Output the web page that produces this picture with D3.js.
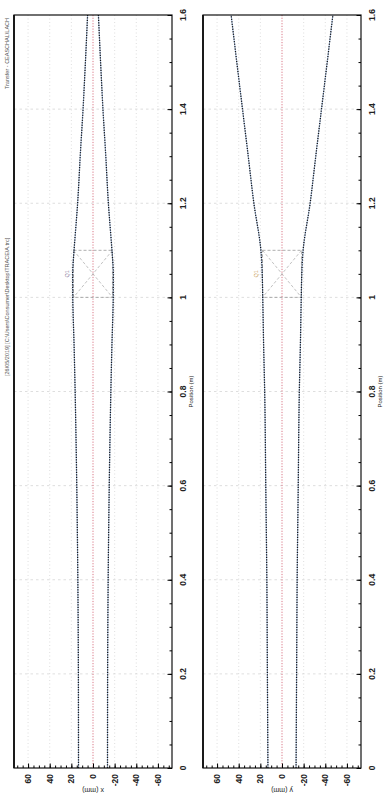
<!DOCTYPE html>
<html>
<head>
<meta charset="utf-8">
<script src="https://cdn.jsdelivr.net/npm/d3@7"></script>
<style>
  body { margin: 0; background: #fff; }
  svg { display: block; }
  text { font-family: "Liberation Sans Narrow", "Liberation Sans", Arial, sans-serif; fill: #222; }
</style>
</head>
<body>
<div id="chart"></div>
<script>
// envelope data (position in m, half size in mm)
const positions = [0, 0.2, 0.4, 0.6, 0.8, 0.9, 1.0, 1.05, 1.1, 1.2, 1.3, 1.4, 1.5, 1.6];
const xEnvelope = [13.4, 13.5, 14, 15, 16.5, 17.5, 18.7, 18.8, 17.5, 14.2, 11.8, 9.2, 7, 5];
const yEnvelope = [13, 13.5, 14, 15, 16, 17, 17.8, 18.3, 19.5, 26, 31.2, 36.5, 41.8, 47];

const posTicks = [0, 0.2, 0.4, 0.6, 0.8, 1.0, 1.2, 1.4, 1.6];
const posTickLabels = ['0', '0.2', '0.4', '0.6', '0.8', '1', '1.2', '1.4', '1.6'];
const valTicks = [60, 40, 20, 0, -20, -40, -60];
const valTickLabels = ['60', '40', '20', '0', '-20', '-40', '-60'];

// quadrupole element
const quadName = 'Q1';
const quadStart = 1.0;
const quadEnd = 1.1;
const quadAperture = 18;

const headerLeft = '[26/05/2019] [C:\\Users\\Consumer\\Desktop\\TRACE\\A.trc]';
const headerRight = 'Transfer - CEASCHAL\\LACH';

const width = 387;
const height = 810;
const plotTop = 15;
const plotBottom = 768;

const svg = d3.select('#chart').append('svg')
  .attr('width', width)
  .attr('height', height);

const y = d3.scaleLinear().domain([0, 1.6]).range([plotBottom, plotTop]);

const panels = [
  { left: 14, right: 172, data: xEnvelope, title: 'x (mm)', labelColor: '#8c7fa0' },
  { left: 203, right: 361, data: yEnvelope, title: 'y (mm)', labelColor: '#c9a25e' }
];

panels.forEach((p) => {
  const x = d3.scaleLinear().domain([73, -73]).range([p.left, p.right]);
  const g = svg.append('g');

  // grid
  g.selectAll('line.vgrid').data(valTicks.filter((d) => d !== 0)).enter().append('line')
    .attr('x1', (d) => x(d)).attr('x2', (d) => x(d))
    .attr('y1', plotTop).attr('y2', plotBottom)
    .attr('stroke', '#d6d6d6').attr('stroke-width', 0.8)
    .attr('stroke-dasharray', '1 2.5');
  g.selectAll('line.hgrid').data(posTicks.slice(1, -1)).enter().append('line')
    .attr('x1', p.left).attr('x2', p.right)
    .attr('y1', (d) => y(d)).attr('y2', (d) => y(d))
    .attr('stroke', '#d6d6d6').attr('stroke-width', 0.8)
    .attr('stroke-dasharray', '2.5 3');

  // centre line
  g.append('line')
    .attr('x1', x(0)).attr('x2', x(0))
    .attr('y1', plotTop).attr('y2', plotBottom)
    .attr('stroke', '#d66a7a').attr('stroke-width', 0.9)
    .attr('stroke-dasharray', '1.2 1.5');

  // quadrupole box
  const bx0 = x(quadAperture), bx1 = x(-quadAperture);
  const by0 = y(quadEnd), by1 = y(quadStart);
  g.append('rect')
    .attr('x', bx0).attr('y', by0)
    .attr('width', bx1 - bx0).attr('height', by1 - by0)
    .attr('fill', 'none').attr('stroke', '#9a9a9a').attr('stroke-width', 0.8)
    .attr('stroke-dasharray', '3 2');
  [[bx0, by0, bx1, by1], [bx1, by0, bx0, by1]].forEach((l) => {
    g.append('line')
      .attr('x1', l[0]).attr('y1', l[1]).attr('x2', l[2]).attr('y2', l[3])
      .attr('stroke', '#a8a8a8').attr('stroke-width', 0.7)
      .attr('stroke-dasharray', '3 2');
  });
  g.append('text')
    .attr('transform', `translate(${x(quadAperture + 6)}, ${y((quadStart + quadEnd) / 2)}) rotate(-90)`)
    .attr('text-anchor', 'middle')
    .attr('dominant-baseline', 'central')
    .style('font-size', '5.5px')
    .style('fill', p.labelColor)
    .text(quadName);

  // envelopes
  const pts = positions.map((d, i) => [d, p.data[i]]);
  [1, -1].forEach((s) => {
    const line = d3.line()
      .x((d) => x(s * d[1]))
      .y((d) => y(d[0]))
      .curve(d3.curveMonotoneY);
    g.append('path').attr('d', line(pts))
      .attr('fill', 'none').attr('stroke', '#4a7cc8').attr('stroke-width', 0.7)
      .attr('opacity', 0.7);
    g.append('path').attr('d', line(pts))
      .attr('fill', 'none').attr('stroke', '#161616').attr('stroke-width', 1.3)
      .attr('stroke-dasharray', '1.2 1.3');
  });

  // frame
  g.append('rect')
    .attr('x', p.left).attr('y', plotTop)
    .attr('width', p.right - p.left).attr('height', plotBottom - plotTop)
    .attr('fill', 'none').attr('stroke', '#111').attr('stroke-width', 1.2);
  g.append('line')
    .attr('x1', p.left).attr('x2', p.left).attr('y1', plotTop).attr('y2', plotBottom)
    .attr('stroke', '#111').attr('stroke-width', 1.8);

  // position axis (right side, ticks inward)
  g.append('g')
    .attr('transform', `translate(${p.right},0)`)
    .call(d3.axisRight(y).tickValues(d3.range(0, 1.6001, 0.05)).tickSize(-2.5).tickFormat(''))
    .call((a) => a.select('.domain').remove());
  g.append('g')
    .attr('transform', `translate(${p.right},0)`)
    .call(d3.axisRight(y).tickValues(posTicks).tickSize(-4.5).tickFormat(''))
    .call((a) => a.select('.domain').remove());
  g.selectAll('text.pos').data(posTicks).enter().append('text')
    .attr('transform', (d) => `translate(${p.right + 8}, ${y(d)}) rotate(-90)`)
    .attr('text-anchor', 'middle')
    .attr('dominant-baseline', 'hanging')
    .style('font-size', '8.5px')
    .style('font-weight', 'bold')
    .text((d, i) => posTickLabels[i]);
  g.append('text')
    .attr('transform', `translate(${p.right + 19}, ${(plotTop + plotBottom) / 2}) rotate(-90)`)
    .attr('text-anchor', 'middle')
    .attr('dominant-baseline', 'central')
    .style('font-size', '6px')
    .text('Position (m)');

  // value axis (bottom, ticks inward)
  g.append('g')
    .attr('transform', `translate(0,${plotBottom})`)
    .call(d3.axisTop(x).tickValues(d3.range(-70, 71, 5)).tickSize(2.5).tickFormat(''))
    .call((a) => a.select('.domain').remove());
  g.append('g')
    .attr('transform', `translate(0,${plotBottom})`)
    .call(d3.axisTop(x).tickValues(valTicks).tickSize(4.5).tickFormat(''))
    .call((a) => a.select('.domain').remove());
  g.selectAll('text.val').data(valTicks).enter().append('text')
    .attr('transform', (d) => `translate(${x(d)}, ${plotBottom + 6}) rotate(-90)`)
    .attr('text-anchor', 'end')
    .attr('dominant-baseline', 'central')
    .style('font-size', '8.5px')
    .style('font-weight', 'bold')
    .text((d, i) => valTickLabels[i]);
  g.append('text')
    .attr('transform', `translate(${x(0)}, ${plotBottom + 22}) rotate(180)`)
    .attr('text-anchor', 'middle')
    .attr('dominant-baseline', 'central')
    .style('font-size', '7px')
    .style('fill', '#222')
    .text(p.title);
});

// header texts along the left edge
svg.append('text')
  .attr('transform', `translate(7, 376) rotate(-90)`)
  .attr('text-anchor', 'start')
  .attr('dominant-baseline', 'central')
  .style('font-size', '5.5px')
  .style('fill', '#555')
  .text(headerLeft);
svg.append('text')
  .attr('transform', `translate(7, 18) rotate(-90)`)
  .attr('text-anchor', 'end')
  .attr('dominant-baseline', 'central')
  .style('font-size', '5.5px')
  .style('fill', '#555')
  .text(headerRight);
</script>
</body>
</html>
